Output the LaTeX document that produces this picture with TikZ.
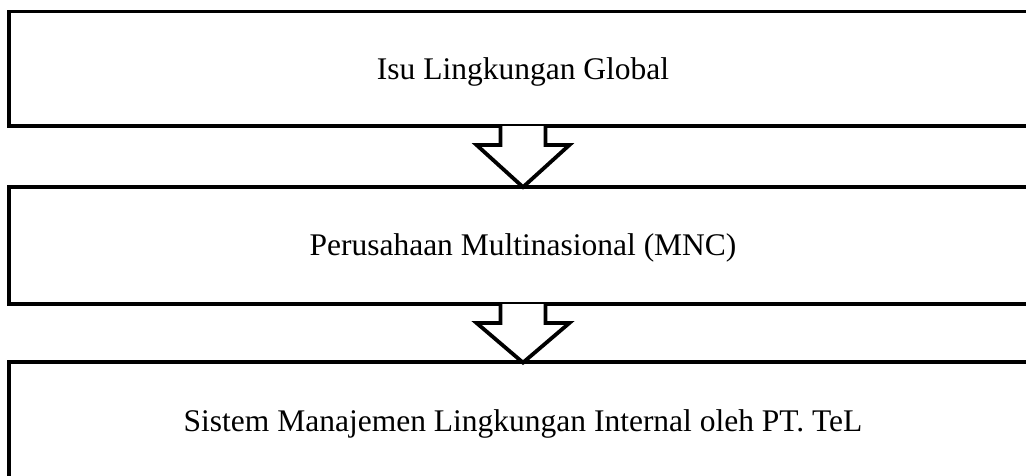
\documentclass[tikz,border=0pt]{standalone}
\usepackage{fontspec}
\setmainfont{Liberation Serif}
\usetikzlibrary{calc}
\begin{document}
\begin{tikzpicture}[x=1pt,y=-1pt,line width=3.8pt,
  flowbox/.style={draw, rectangle, minimum width=1028pt, inner sep=0pt,
    text height=20.9pt, text depth=0pt, font=\fontsize{31.5}{38}\selectfont},
  blockarrow/.style={draw, fill=white, line join=miter}]
\clip (0,0) rectangle (1026,475);
\node[flowbox, minimum height=114.5pt] (b1) at (523,68.75) {Isu Lingkungan Global};
\node[flowbox, minimum height=117pt] (b2) at (523,245.5) {Perusahaan Multinasional (MNC)};
\node[flowbox, minimum height=118pt] (b3) at (523,421) {Sistem Manajemen Lingkungan Internal oleh PT.~TeL};
\draw[blockarrow] ($(b1.south)+(-22.5,-1.9)$) -- ($(b1.south)+(-22.5,17)$) -- ($(b1.south)+(-46.5,17)$)
  -- ($(b2.north)+(0,2)$) -- ($(b1.south)+(46.5,17)$) -- ($(b1.south)+(22.5,17)$) -- ($(b1.south)+(22.5,-1.9)$);
\draw[blockarrow] ($(b2.south)+(-22.5,-1.9)$) -- ($(b2.south)+(-22.5,17)$) -- ($(b2.south)+(-46.5,17)$)
  -- ($(b3.north)+(0,2.5)$) -- ($(b2.south)+(46.5,17)$) -- ($(b2.south)+(22.5,17)$) -- ($(b2.south)+(22.5,-1.9)$);
\end{tikzpicture}
\end{document}
